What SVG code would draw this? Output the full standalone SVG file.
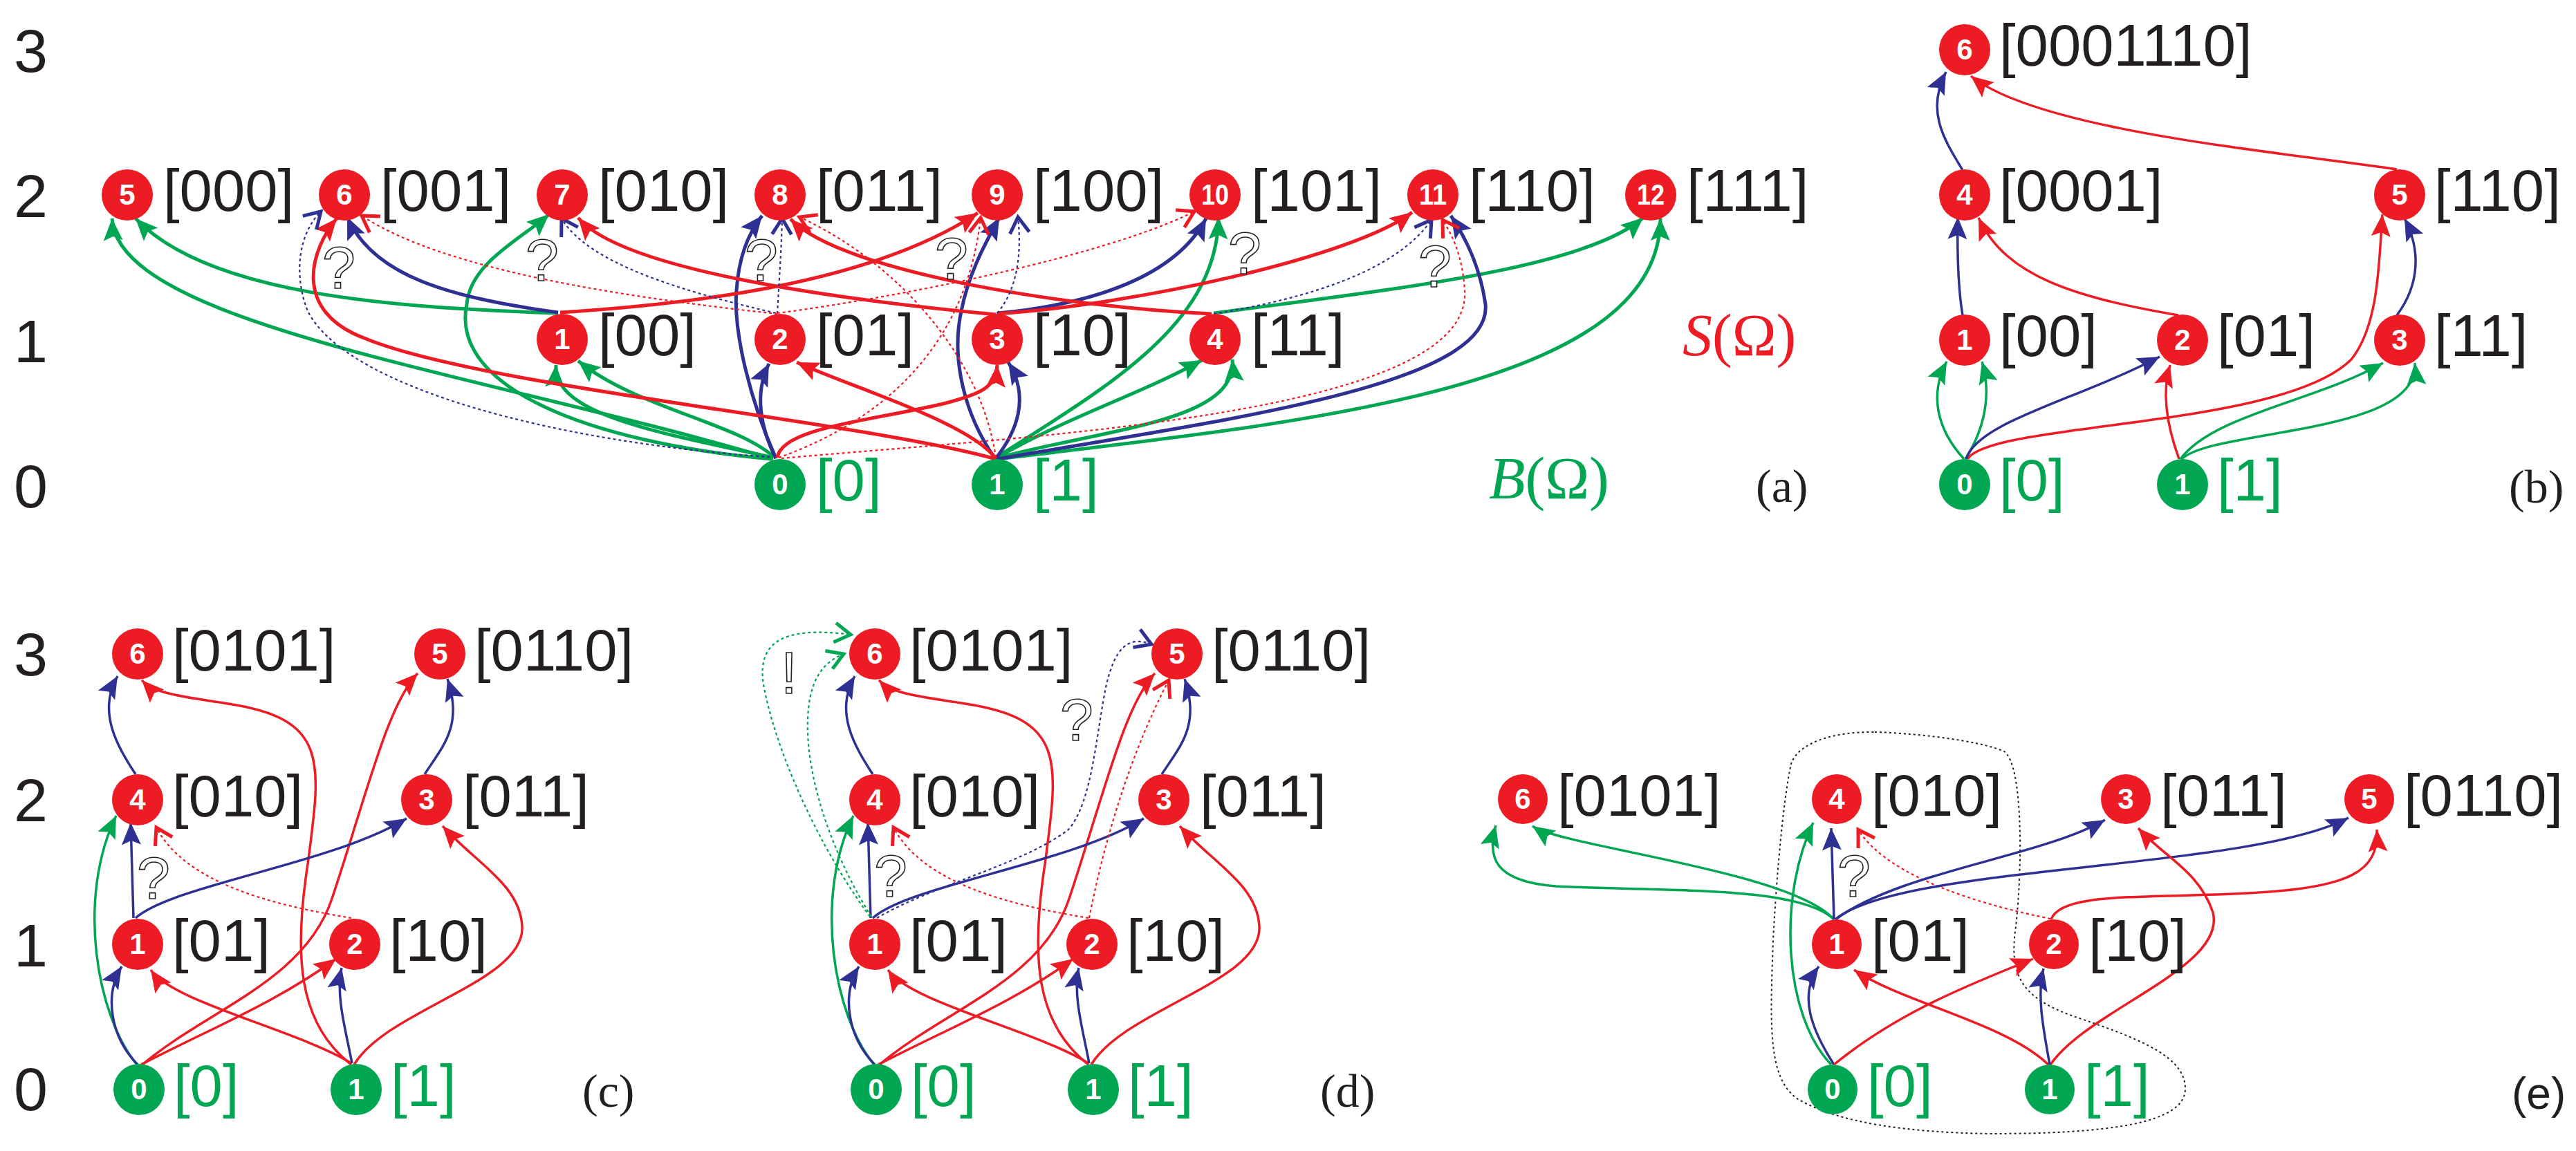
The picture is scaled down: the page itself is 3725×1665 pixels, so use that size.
<svg xmlns="http://www.w3.org/2000/svg" width="3725" height="1665" viewBox="0 0 3725 1665">
<style>
text{font-family:"Liberation Sans",Arial,sans-serif}
.nr{fill:#ed1c24}.ng{fill:#00a651}
.num{font-weight:bold;font-size:42px;fill:#fff;text-anchor:middle}
.lab{font-size:85px;fill:#231f20}
.lg{fill:#00a651}
.lvl{font-size:88px;fill:#231f20}
.q{font-size:86px;fill:#fff;stroke:#231f20;stroke-width:1.6}
.ser{font-family:"Liberation Serif","Times New Roman",serif}
.e{fill:none}
.w5{stroke-width:5}.w3{stroke-width:3.5}
.r{stroke:#ed1c24}.g{stroke:#00a651}.b{stroke:#2e3192}
.d{stroke-width:2.2;stroke-dasharray:4 4}
.mR{marker-end:url(#mR)}.mG{marker-end:url(#mG)}.mB{marker-end:url(#mB)}
.oR{marker-end:url(#oR)}.oG{marker-end:url(#oG)}.oB{marker-end:url(#oB)}
.encl{fill:none;stroke:#231f20;stroke-width:2;stroke-dasharray:3 4}
</style>
<defs>
<marker id="mR" markerUnits="userSpaceOnUse" viewBox="-34 -17 38 34" markerWidth="38" markerHeight="34" refX="0" refY="0" orient="auto" overflow="visible"><path d="M0 0 L-32 -14 L-26 0 L-32 14 Z" fill="#ed1c24"/></marker>
<marker id="mG" markerUnits="userSpaceOnUse" viewBox="-34 -17 38 34" markerWidth="38" markerHeight="34" refX="0" refY="0" orient="auto" overflow="visible"><path d="M0 0 L-32 -14 L-26 0 L-32 14 Z" fill="#00a651"/></marker>
<marker id="mB" markerUnits="userSpaceOnUse" viewBox="-34 -17 38 34" markerWidth="38" markerHeight="34" refX="0" refY="0" orient="auto" overflow="visible"><path d="M0 0 L-32 -14 L-26 0 L-32 14 Z" fill="#2e3192"/></marker>
<marker id="oR" markerUnits="userSpaceOnUse" viewBox="-30 -18 34 36" markerWidth="34" markerHeight="36" refX="0" refY="0" orient="auto" overflow="visible"><path d="M-23 -14 L0 0 L-23 14" fill="none" stroke="#ed1c24" stroke-width="5"/></marker>
<marker id="oG" markerUnits="userSpaceOnUse" viewBox="-30 -18 34 36" markerWidth="34" markerHeight="36" refX="0" refY="0" orient="auto" overflow="visible"><path d="M-23 -14 L0 0 L-23 14" fill="none" stroke="#00a651" stroke-width="5"/></marker>
<marker id="oB" markerUnits="userSpaceOnUse" viewBox="-30 -18 34 36" markerWidth="34" markerHeight="36" refX="0" refY="0" orient="auto" overflow="visible"><path d="M-23 -14 L0 0 L-23 14" fill="none" stroke="#2e3192" stroke-width="5"/></marker>
</defs>
<rect width="3725" height="1665" fill="#fff"/>

<g id="level-labels">
<text class="lvl" x="20" y="104">3</text>
<text class="lvl" x="20" y="314">2</text>
<text class="lvl" x="20" y="524">1</text>
<text class="lvl" x="20" y="734">0</text>
<text class="lvl" x="20" y="977">3</text>
<text class="lvl" x="20" y="1188">2</text>
<text class="lvl" x="20" y="1398">1</text>
<text class="lvl" x="20" y="1606">0</text>
</g>

<g id="connectors">
<g id="conn-a">
<path class="e w5 g mG" d="M1118 664 C 700 540, 170 470, 162 316"/>
<path class="e w5 g mG" d="M807 453 C 560 445, 300 425, 196 316"/>
<path class="e w5 g mG" d="M1115 664 C 850 640, 650 560, 675 440 C 680 380, 755 345, 794 310"/>
<path class="e w5 g mG" d="M1118 662 C 950 625, 800 600, 804 528"/>
<path class="e w5 g mG" d="M1118 660 C 1060 610, 920 590, 836 522"/>
<path class="e w5 g mG" d="M1440 662 C 1600 560, 1760 470, 1762 314"/>
<path class="e w5 g mG" d="M1440 663 C 1550 600, 1650 570, 1738 521"/>
<path class="e w5 g mG" d="M1440 663 C 1600 620, 1790 610, 1782 520"/>
<path class="e w5 g mG" d="M1755 453 C 2000 420, 2290 390, 2376 315"/>
<path class="e w5 g mG" d="M1442 664 C 1900 610, 2400 560, 2401 316"/>
<path class="e w5 b mB" d="M807 452 C 650 430, 540 400, 502 314"/>
<path class="e w5 b mB" d="M1122 663 C 1085 580, 1060 480, 1065 420 C 1068 375, 1080 340, 1102 312"/>
<path class="e w5 b mB" d="M1438 662 C 1395 600, 1375 520, 1390 450 C 1400 400, 1420 360, 1445 315"/>
<path class="e w5 b mB" d="M1443 453 C 1580 440, 1700 400, 1744 316"/>
<path class="e w5 b mB" d="M1442 664 C 1750 610, 2160 560, 2148 440 C 2140 385, 2120 345, 2098 312"/>
<path class="e w5 b mB" d="M1122 663 C 1100 620, 1090 570, 1112 526"/>
<path class="e w5 b mB" d="M1440 663 C 1470 625, 1490 575, 1458 524"/>
<path class="e w5 r mR" d="M1440 664 C 1250 610, 700 560, 529 490 C 420 450, 450 360, 487 316"/>
<path class="e w5 r mR" d="M1440 455 C 1200 432, 900 390, 836 315"/>
<path class="e w5 r mR" d="M810 452 C 1000 440, 1260 410, 1414 308"/>
<path class="e w5 r mR" d="M1752 454 C 1550 445, 1220 395, 1143 317"/>
<path class="e w5 r mR" d="M1441 454 C 1650 440, 1960 370, 2042 307"/>
<path class="e w5 r mR" d="M1440 663 C 1400 610, 1230 560, 1152 524"/>
<path class="e w5 r mR" d="M1124 662 C 1130 620, 1250 610, 1360 585 C 1420 570, 1440 560, 1442 528"/>
<path class="e d b oB" d="M1113 661 C 800 640, 500 560, 445 450 C 425 400, 430 340, 464 306"/>
<path class="e d b oB" d="M1122 453 C 980 420, 850 380, 812 316"/>
<path class="e d b oB" d="M1124 454 C 1127 400, 1130 360, 1131 316"/>
<path class="e d b oB" d="M1442 453 C 1470 420, 1478 370, 1472 314"/>
<path class="e d b oB" d="M1755 454 C 1900 430, 2020 390, 2070 318"/>
<path class="e d r oR" d="M1124 454 C 900 430, 640 390, 523 312"/>
<path class="e d r oR" d="M1440 662 C 1420 520, 1300 380, 1156 314"/>
<path class="e d r oR" d="M1126 662 C 1300 600, 1400 480, 1418 315"/>
<path class="e d r oR" d="M1124 453 C 1300 430, 1600 370, 1727 306"/>
<path class="e d r oR" d="M1130 663 C 1500 630, 2130 600, 2118 420 C 2115 370, 2100 340, 2086 318"/>
</g>
<g id="conn-b">
<path class="e w3 b mB" d="M2838 246 C 2810 200, 2785 160, 2814 104"/>
<path class="e w3 r mR" d="M3466 245 C 3300 220, 2950 190, 2850 110"/>
<path class="e w3 b mB" d="M2838 456 C 2832 420, 2830 370, 2831 314"/>
<path class="e w3 r mR" d="M3150 456 C 3000 430, 2900 400, 2861 315"/>
<path class="e w3 r mR" d="M2845 664 C 2880 610, 3300 620, 3400 520 C 3440 470, 3440 380, 3445 310"/>
<path class="e w3 b mB" d="M3466 456 C 3500 410, 3500 360, 3477 316"/>
<path class="e w3 g mG" d="M2840 664 C 2800 620, 2790 570, 2815 523"/>
<path class="e w3 g mG" d="M2842 664 C 2870 620, 2880 570, 2866 523"/>
<path class="e w3 b mB" d="M2843 664 C 2860 610, 3000 580, 3123 516"/>
<path class="e w3 r mR" d="M3151 664 C 3135 620, 3125 570, 3138 528"/>
<path class="e w3 g mG" d="M3153 664 C 3200 600, 3350 580, 3446 525"/>
<path class="e w3 g mG" d="M3155 664 C 3200 620, 3500 630, 3492 525"/>
</g>
<g id="conn-c">
<path class="e w3 b mB" d="M196 1120 C 170 1080, 140 1030, 170 978"/>
<path class="e w3 r mR" d="M508 1540 C 430 1480, 425 1380, 445 1250 C 465 1100, 475 1040, 330 1018 C 270 1008, 225 1005, 205 984"/>
<path class="e w3 r mR" d="M206 1540 C 300 1460, 440 1420, 480 1300 C 530 1150, 560 1020, 604 974"/>
<path class="e w3 b mB" d="M614 1120 C 640 1080, 670 1050, 647 982"/>
<path class="e w3 g mG" d="M198 1540 C 140 1470, 110 1300, 168 1180"/>
<path class="e w3 b mB" d="M193 1328 L189 1190"/>
<path class="e d r oR" d="M508 1328 C 400 1310, 270 1280, 226 1197"/>
<path class="e w3 b mB" d="M196 1328 C 250 1280, 480 1250, 588 1184"/>
<path class="e w3 r mR" d="M512 1540 C 560 1460, 760 1420, 755 1340 C 752 1280, 690 1250, 640 1195"/>
<path class="e w3 b mB" d="M199 1540 C 160 1500, 150 1440, 176 1398"/>
<path class="e w3 r mR" d="M508 1538 C 430 1490, 250 1450, 218 1403"/>
<path class="e w3 r mR" d="M204 1540 C 300 1490, 400 1450, 486 1387"/>
<path class="e w3 b mB" d="M509 1538 C 500 1490, 485 1440, 494 1400"/>
</g>
<g id="conn-d">
<g transform="translate(1066 0)">
<path class="e w3 b mB" d="M196 1120 C 170 1080, 140 1030, 170 978"/>
<path class="e w3 r mR" d="M508 1540 C 430 1480, 425 1380, 445 1250 C 465 1100, 475 1040, 330 1018 C 270 1008, 225 1005, 205 984"/>
<path class="e w3 r mR" d="M206 1540 C 300 1460, 440 1420, 480 1300 C 530 1150, 560 1020, 604 974"/>
<path class="e w3 b mB" d="M614 1120 C 640 1080, 670 1050, 647 982"/>
<path class="e w3 g mG" d="M198 1540 C 140 1470, 110 1300, 168 1180"/>
<path class="e w3 b mB" d="M193 1328 L189 1190"/>
<path class="e d r oR" d="M508 1328 C 400 1310, 270 1280, 226 1197"/>
<path class="e w3 b mB" d="M196 1328 C 250 1280, 480 1250, 588 1184"/>
<path class="e w3 r mR" d="M512 1540 C 560 1460, 760 1420, 755 1340 C 752 1280, 690 1250, 640 1195"/>
<path class="e w3 b mB" d="M199 1540 C 160 1500, 150 1440, 176 1398"/>
<path class="e w3 r mR" d="M508 1538 C 430 1490, 250 1450, 218 1403"/>
<path class="e w3 r mR" d="M204 1540 C 300 1490, 400 1450, 486 1387"/>
<path class="e w3 b mB" d="M509 1538 C 500 1490, 485 1440, 494 1400"/>
</g>
<path class="e d g oG" d="M1258 1326 C 1180 1220, 1120 1080, 1104 990 C 1095 930, 1130 905, 1230 918"/>
<path class="e d g oG" d="M1260 1326 C 1200 1230, 1165 1120, 1168 1040 C 1170 990, 1185 960, 1220 946"/>
<path class="e d b oB" d="M1268 1328 C 1350 1280, 1480 1250, 1545 1200 C 1580 1160, 1585 1060, 1600 990 C 1612 940, 1630 918, 1665 932"/>
<path class="e d r oR" d="M1575 1328 C 1600 1200, 1640 1080, 1690 984"/>
</g>
<g id="conn-e">
<path class="encl" d="M2711 1059 C 2760 1060, 2860 1070, 2898 1087 C 2925 1105, 2925 1250, 2915 1340 C 2905 1410, 2920 1445, 3010 1474 C 3100 1505, 3160 1530, 3160 1575 C 3160 1625, 3050 1640, 2877 1640 C 2760 1638, 2660 1625, 2600 1590 C 2555 1560, 2560 1480, 2564 1360 C 2570 1250, 2580 1150, 2590 1105 C 2600 1075, 2650 1058, 2711 1059 Z"/>
<path class="e w3 g mG" d="M2652 1330 C 2600 1280, 2400 1290, 2250 1282 C 2160 1275, 2150 1240, 2163 1194"/>
<path class="e w3 g mG" d="M2652 1330 C 2590 1260, 2260 1225, 2216 1195"/>
<path class="e w3 g mG" d="M2648 1540 C 2580 1470, 2570 1300, 2622 1190"/>
<path class="e w3 b mB" d="M2652 1330 L2648 1198"/>
<path class="e d r oR" d="M2965 1329 C 2870 1310, 2730 1270, 2687 1200"/>
<path class="e w3 b mB" d="M2654 1330 C 2750 1260, 2950 1240, 3044 1186"/>
<path class="e w3 b mB" d="M2654 1330 C 2750 1250, 3250 1260, 3396 1183"/>
<path class="e w3 r mR" d="M2965 1540 C 3020 1460, 3220 1400, 3200 1320 C 3180 1260, 3130 1240, 3092 1198"/>
<path class="e w3 r mR" d="M2966 1330 C 2980 1290, 3100 1300, 3250 1292 C 3400 1285, 3440 1260, 3437 1200"/>
<path class="e w3 b mB" d="M2652 1540 C 2620 1490, 2600 1440, 2630 1398"/>
<path class="e w3 r mR" d="M2962 1540 C 2900 1480, 2750 1450, 2681 1403"/>
<path class="e w3 r mR" d="M2652 1540 C 2750 1460, 2860 1420, 2940 1387"/>
<path class="e w3 b mB" d="M2964 1540 C 2955 1490, 2945 1440, 2955 1401"/>
</g>
</g>

<g id="marks">
<text class="q" x="466" y="417">?</text>
<text class="q" x="760" y="406">?</text>
<text class="q" x="1077" y="406">?</text>
<text class="q" x="1352" y="404">?</text>
<text class="q" x="1776" y="396">?</text>
<text class="q" x="2051" y="415">?</text>
<text class="q" x="198" y="1300">?</text>
<text class="q" x="1264" y="1297">?</text>
<text class="q" x="1533" y="1071">?</text>
<text class="q" x="1129" y="1003">!</text>
<text class="q" x="2657" y="1297">?</text>
</g>

<g id="nodes-a">
<g id="a-n5" transform="translate(184 282)"><circle r="37" class="nr"/><text class="num" y="14">5</text><text class="lab" x="52" y="23">[000]</text></g>
<g id="a-n6" transform="translate(498 282)"><circle r="37" class="nr"/><text class="num" y="14">6</text><text class="lab" x="52" y="23">[001]</text></g>
<g id="a-n7" transform="translate(813 282)"><circle r="37" class="nr"/><text class="num" y="14">7</text><text class="lab" x="52" y="23">[010]</text></g>
<g id="a-n8" transform="translate(1128 282)"><circle r="37" class="nr"/><text class="num" y="14">8</text><text class="lab" x="52" y="23">[011]</text></g>
<g id="a-n9" transform="translate(1442 282)"><circle r="37" class="nr"/><text class="num" y="14">9</text><text class="lab" x="52" y="23">[100]</text></g>
<g id="a-n10" transform="translate(1757 282)"><circle r="37" class="nr"/><text class="num" y="14" textLength="40" lengthAdjust="spacingAndGlyphs">10</text><text class="lab" x="52" y="23">[101]</text></g>
<g id="a-n11" transform="translate(2072 282)"><circle r="37" class="nr"/><text class="num" y="14" textLength="40" lengthAdjust="spacingAndGlyphs">11</text><text class="lab" x="52" y="23">[110]</text></g>
<g id="a-n12" transform="translate(2387 282)"><circle r="37" class="nr"/><text class="num" y="14" textLength="40" lengthAdjust="spacingAndGlyphs">12</text><text class="lab" x="52" y="23">[111]</text></g>
<g id="a-n1" transform="translate(813 491)"><circle r="37" class="nr"/><text class="num" y="14">1</text><text class="lab" x="52" y="23">[00]</text></g>
<g id="a-n2" transform="translate(1128 491)"><circle r="37" class="nr"/><text class="num" y="14">2</text><text class="lab" x="52" y="23">[01]</text></g>
<g id="a-n3" transform="translate(1442 491)"><circle r="37" class="nr"/><text class="num" y="14">3</text><text class="lab" x="52" y="23">[10]</text></g>
<g id="a-n4" transform="translate(1757 491)"><circle r="37" class="nr"/><text class="num" y="14">4</text><text class="lab" x="52" y="23">[11]</text></g>
<g id="a-g0" transform="translate(1128 701)"><circle r="37" class="ng"/><text class="num" y="14">0</text><text class="lab lg" x="52" y="23">[0]</text></g>
<g id="a-g1" transform="translate(1442 701)"><circle r="37" class="ng"/><text class="num" y="14">1</text><text class="lab lg" x="52" y="23">[1]</text></g>
</g>

<g id="nodes-b">
<g id="b-n6" transform="translate(2841 72)"><circle r="37" class="nr"/><text class="num" y="14">6</text><text class="lab" x="50" y="23">[0001110]</text></g>
<g id="b-n4" transform="translate(2841 282)"><circle r="37" class="nr"/><text class="num" y="14">4</text><text class="lab" x="50" y="23">[0001]</text></g>
<g id="b-n5" transform="translate(3470 282)"><circle r="37" class="nr"/><text class="num" y="14">5</text><text class="lab" x="50" y="23">[110]</text></g>
<g id="b-n1" transform="translate(2841 492)"><circle r="37" class="nr"/><text class="num" y="14">1</text><text class="lab" x="50" y="23">[00]</text></g>
<g id="b-n2" transform="translate(3156 492)"><circle r="37" class="nr"/><text class="num" y="14">2</text><text class="lab" x="50" y="23">[01]</text></g>
<g id="b-n3" transform="translate(3470 492)"><circle r="37" class="nr"/><text class="num" y="14">3</text><text class="lab" x="50" y="23">[11]</text></g>
<g id="b-g0" transform="translate(2841 701)"><circle r="37" class="ng"/><text class="num" y="14">0</text><text class="lab lg" x="50" y="23">[0]</text></g>
<g id="b-g1" transform="translate(3156 701)"><circle r="37" class="ng"/><text class="num" y="14">1</text><text class="lab lg" x="50" y="23">[1]</text></g>
</g>

<g id="nodes-c">
<g id="c-n6" transform="translate(199 946)"><circle r="37" class="nr"/><text class="num" y="14">6</text><text class="lab" x="50" y="24">[0101]</text></g>
<g id="c-n5" transform="translate(636 946)"><circle r="37" class="nr"/><text class="num" y="14">5</text><text class="lab" x="50" y="24">[0110]</text></g>
<g id="c-n4" transform="translate(199 1157)"><circle r="37" class="nr"/><text class="num" y="14">4</text><text class="lab" x="50" y="24">[010]</text></g>
<g id="c-n3" transform="translate(617 1157)"><circle r="37" class="nr"/><text class="num" y="14">3</text><text class="lab" x="52" y="24">[011]</text></g>
<g id="c-n1" transform="translate(199 1366)"><circle r="37" class="nr"/><text class="num" y="14">1</text><text class="lab" x="50" y="24">[01]</text></g>
<g id="c-n2" transform="translate(513 1366)"><circle r="37" class="nr"/><text class="num" y="14">2</text><text class="lab" x="50" y="24">[10]</text></g>
<g id="c-g0" transform="translate(201 1576)"><circle r="37" class="ng"/><text class="num" y="14">0</text><text class="lab lg" x="50" y="24">[0]</text></g>
<g id="c-g1" transform="translate(515 1576)"><circle r="37" class="ng"/><text class="num" y="14">1</text><text class="lab lg" x="50" y="24">[1]</text></g>
</g>

<g id="nodes-d">
<g id="d-n6" transform="translate(1265 946)"><circle r="37" class="nr"/><text class="num" y="14">6</text><text class="lab" x="50" y="24">[0101]</text></g>
<g id="d-n5" transform="translate(1702 946)"><circle r="37" class="nr"/><text class="num" y="14">5</text><text class="lab" x="50" y="24">[0110]</text></g>
<g id="d-n4" transform="translate(1265 1157)"><circle r="37" class="nr"/><text class="num" y="14">4</text><text class="lab" x="50" y="24">[010]</text></g>
<g id="d-n3" transform="translate(1683 1157)"><circle r="37" class="nr"/><text class="num" y="14">3</text><text class="lab" x="52" y="24">[011]</text></g>
<g id="d-n1" transform="translate(1265 1366)"><circle r="37" class="nr"/><text class="num" y="14">1</text><text class="lab" x="50" y="24">[01]</text></g>
<g id="d-n2" transform="translate(1579 1366)"><circle r="37" class="nr"/><text class="num" y="14">2</text><text class="lab" x="50" y="24">[10]</text></g>
<g id="d-g0" transform="translate(1267 1576)"><circle r="37" class="ng"/><text class="num" y="14">0</text><text class="lab lg" x="50" y="24">[0]</text></g>
<g id="d-g1" transform="translate(1581 1576)"><circle r="37" class="ng"/><text class="num" y="14">1</text><text class="lab lg" x="50" y="24">[1]</text></g>
</g>

<g id="nodes-e">
<g id="e-n6" transform="translate(2202 1156)"><circle r="36" class="nr"/><text class="num" y="14">6</text><text class="lab" x="50" y="24">[0101]</text></g>
<g id="e-n4" transform="translate(2656 1156)"><circle r="36" class="nr"/><text class="num" y="14">4</text><text class="lab" x="50" y="24">[010]</text></g>
<g id="e-n3" transform="translate(3074 1156)"><circle r="36" class="nr"/><text class="num" y="14">3</text><text class="lab" x="50" y="24">[011]</text></g>
<g id="e-n5" transform="translate(3426 1156)"><circle r="36" class="nr"/><text class="num" y="14">5</text><text class="lab" x="50" y="24">[0110]</text></g>
<g id="e-n1" transform="translate(2656 1366)"><circle r="36" class="nr"/><text class="num" y="14">1</text><text class="lab" x="50" y="24">[01]</text></g>
<g id="e-n2" transform="translate(2970 1366)"><circle r="36" class="nr"/><text class="num" y="14">2</text><text class="lab" x="50" y="24">[10]</text></g>
<g id="e-g0" transform="translate(2650 1576)"><circle r="36" class="ng"/><text class="num" y="14">0</text><text class="lab lg" x="50" y="24">[0]</text></g>
<g id="e-g1" transform="translate(2964 1576)"><circle r="36" class="ng"/><text class="num" y="14">1</text><text class="lab lg" x="50" y="24">[1]</text></g>
</g>

<g id="captions">
<text class="ser" x="2433" y="514" font-size="86" fill="#ed1c24"><tspan font-style="italic">S</tspan>(Ω)</text>
<text class="ser" x="2153" y="721" font-size="86" fill="#00a651"><tspan font-style="italic">B</tspan>(Ω)</text>
<text class="ser" x="2539" y="726" font-size="68" fill="#231f20">(a)</text>
<text class="ser" x="3628" y="727" font-size="68" fill="#231f20">(b)</text>
<text class="ser" x="842" y="1601" font-size="68" fill="#231f20">(c)</text>
<text class="ser" x="1909" y="1601" font-size="68" fill="#231f20">(d)</text>
<text x="3632" y="1604" font-size="64" fill="#231f20">(e)</text>
</g>
</svg>
